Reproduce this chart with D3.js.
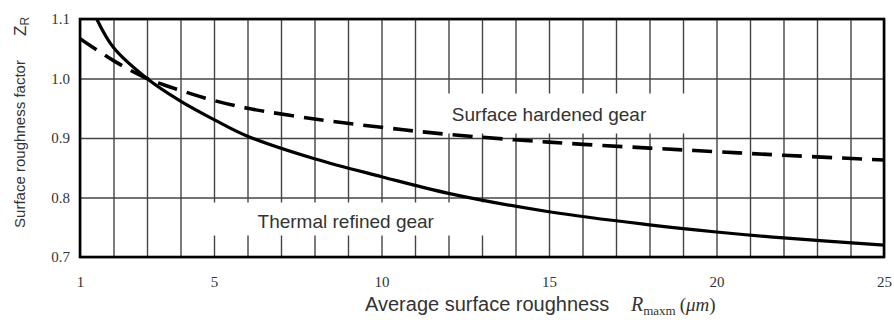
<!DOCTYPE html>
<html>
<head>
<meta charset="utf-8">
<script src="https://cdn.jsdelivr.net/npm/d3@7"></script>
<style>
  body { margin: 0; background: #fff; }
  svg { display: block; }
</style>
</head>
<body>
<svg width="894" height="323"></svg>
<script>
var xTicks = [1, 5, 10, 15, 20, 25];
var yTicks = [0.7, 0.8, 0.9, 1.0, 1.1];

var thermalX = [1.5, 2, 3, 4, 5, 6, 8, 10, 12, 15, 18, 20, 22, 25];
var thermalY = [1.1, 1.052, 1.0, 0.962, 0.931, 0.903, 0.865, 0.835, 0.807, 0.776, 0.754, 0.742, 0.732, 0.72];

var hardenedX = [1, 2, 3, 4, 5, 6, 8, 10, 12, 15, 18, 20, 22, 25];
var hardenedY = [1.067, 1.03, 1.0, 0.98, 0.963, 0.95, 0.932, 0.918, 0.906, 0.893, 0.883, 0.877, 0.871, 0.863];

var svg = d3.select("svg"),
    margin = {top: 19, right: 10, bottom: 66, left: 80},
    width = +svg.attr("width") - margin.left - margin.right,
    height = +svg.attr("height") - margin.top - margin.bottom;

var x = d3.scaleLinear().domain([1, 25]).range([0, width]);
var y = d3.scaleLinear().domain([0.7, 1.1]).range([height, 0]);

var g = svg.append("g").attr("transform", "translate(" + margin.left + "," + margin.top + ")");

// grid
g.append("g")
    .attr("transform", "translate(0," + height + ")")
    .call(d3.axisBottom(x).ticks(24).tickSize(-height).tickFormat(""))
    .call(a => a.select(".domain").remove())
    .selectAll("line").attr("stroke", "#444").attr("stroke-width", 1.4);

g.append("g")
    .call(d3.axisLeft(y).tickValues(yTicks).tickSize(-width).tickFormat(""))
    .call(a => a.select(".domain").remove())
    .selectAll("line").attr("stroke", "#444").attr("stroke-width", 1.4);

// tick labels
g.append("g")
    .attr("transform", "translate(0," + height + ")")
    .call(d3.axisBottom(x).tickValues(xTicks).tickSize(0).tickPadding(19))
    .call(a => a.select(".domain").remove())
    .selectAll("text")
    .attr("font-family", "Liberation Serif, Times New Roman, serif")
    .attr("font-size", 15).attr("fill", "#333");

g.append("g")
    .call(d3.axisLeft(y).tickValues(yTicks).tickSize(0).tickPadding(10).tickFormat(d3.format(".1f")))
    .call(a => a.select(".domain").remove())
    .selectAll("text")
    .attr("font-family", "Liberation Serif, Times New Roman, serif")
    .attr("font-size", 15).attr("fill", "#333");

// white boxes behind the labels
g.append("rect").attr("x", x(11.8)).attr("y", y(1.0) + 15).attr("width", x(19.3) - x(11.8)).attr("height", 40).attr("fill", "#fff");
g.append("rect").attr("x", x(4.75)).attr("y", y(0.8) + 5).attr("width", x(13.3) - x(4.75)).attr("height", 33).attr("fill", "#fff");

// curves
g.append("clipPath").attr("id", "clip")
  .append("rect").attr("width", width).attr("height", height);

var line = d3.line()
    .x(function(d) { return x(d[0]); })
    .y(function(d) { return y(d[1]); })
    .curve(d3.curveCatmullRom.alpha(0.5));

g.append("path")
    .datum(thermalX.map(function(v, i) { return [v, thermalY[i]]; }))
    .attr("clip-path", "url(#clip)")
    .attr("d", line)
    .attr("fill", "none").attr("stroke", "#000").attr("stroke-width", 3.2);

g.append("path")
    .datum(hardenedX.map(function(v, i) { return [v, hardenedY[i]]; }))
    .attr("clip-path", "url(#clip)")
    .attr("d", line)
    .attr("fill", "none").attr("stroke", "#000").attr("stroke-width", 3.6)
    .attr("stroke-dasharray", "20,10");

// frame
g.append("rect").attr("width", width).attr("height", height)
    .attr("fill", "none").attr("stroke", "#000").attr("stroke-width", 2.6);

// curve labels
g.append("text").attr("x", x(12.1)).attr("y", y(0.9) - 17)
    .attr("font-family", "Liberation Sans, Arial, sans-serif").attr("font-size", 19).attr("fill", "#333")
    .text("Surface hardened gear");
g.append("text").attr("x", x(6.3)).attr("y", y(0.8) + 30)
    .attr("font-family", "Liberation Sans, Arial, sans-serif").attr("font-size", 19).attr("fill", "#333")
    .text("Thermal refined gear");

// y title
svg.append("text")
    .attr("transform", "translate(25,144) rotate(-90)")
    .attr("text-anchor", "middle")
    .attr("font-family", "Liberation Sans, Arial, sans-serif").attr("font-size", 14.5).attr("fill", "#333")
    .attr("textLength", 168).attr("lengthAdjust", "spacingAndGlyphs")
    .text("Surface roughness factor");

var zr = svg.append("text")
    .attr("transform", "translate(26,36) rotate(-90)")
    .attr("font-family", "Liberation Sans, Arial, sans-serif").attr("font-size", 17).attr("fill", "#333");
zr.append("tspan").text("Z");
zr.append("tspan").attr("font-size", 12).attr("dy", 3).text("R");

// x title
var xt = svg.append("text").attr("x", 365).attr("y", 311).attr("fill", "#333");
xt.append("tspan").attr("font-family", "Liberation Sans, Arial, sans-serif").attr("font-size", 20)
    .text("Average surface roughness");
xt.append("tspan").attr("x", 631).attr("font-family", "Liberation Serif, Times New Roman, serif")
    .attr("font-style", "italic").attr("font-size", 20).text("R");
xt.append("tspan").attr("dy", 4).attr("font-family", "Liberation Serif, Times New Roman, serif")
    .attr("font-size", 13).text("maxm");
xt.append("tspan").attr("dy", -4).attr("dx", 4).attr("font-family", "Liberation Serif, Times New Roman, serif")
    .attr("font-size", 19).text("(");
xt.append("tspan").attr("font-family", "Liberation Serif, Times New Roman, serif")
    .attr("font-style", "italic").attr("font-size", 19).text("μm");
xt.append("tspan").attr("font-family", "Liberation Serif, Times New Roman, serif")
    .attr("font-size", 19).text(")");
</script>
</body>
</html>
